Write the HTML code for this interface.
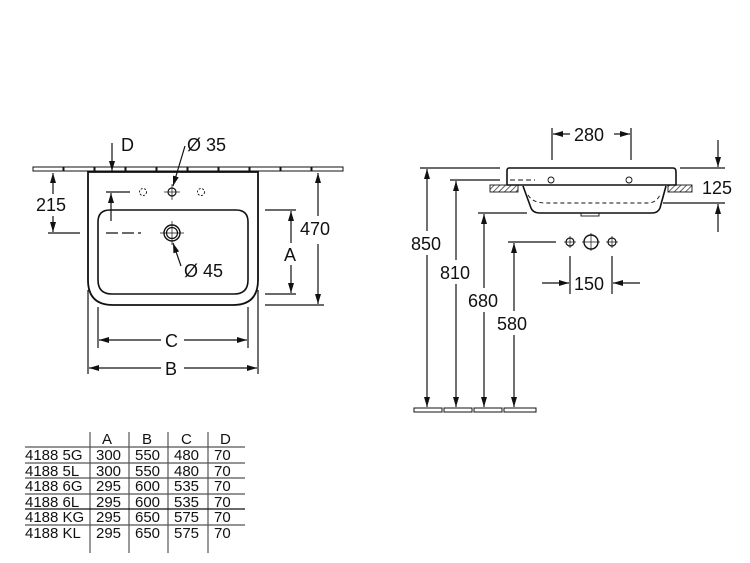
<!DOCTYPE html>
<html><head><meta charset="utf-8"><style>
html,body{margin:0;padding:0;background:#fff;}
svg{display:block;}
text{font-family:"Liberation Sans",sans-serif;fill:#111;}
</style></head><body>
<svg width="750" height="563" viewBox="0 0 750 563" xmlns="http://www.w3.org/2000/svg">
<defs>
<marker id="a" viewBox="0 0 10 6" refX="10" refY="3" markerWidth="10" markerHeight="6" orient="auto-start-reverse" markerUnits="userSpaceOnUse"><path d="M0,0L10,3L0,6z" fill="#111"/></marker>
<pattern id="h" width="4" height="4" patternUnits="userSpaceOnUse" patternTransform="rotate(45)"><line x1="0" y1="0" x2="0" y2="4" stroke="#333" stroke-width="1.5"/></pattern>
</defs>
<g stroke="#111" fill="none" stroke-width="1.2">
<g stroke-width="1">
<rect x="33" y="167" width="30" height="4"/><rect x="64" y="167" width="30" height="4"/><rect x="95" y="167" width="30" height="4"/><rect x="126" y="167" width="30" height="4"/><rect x="157" y="167" width="30" height="4"/><rect x="188" y="167" width="30" height="4"/><rect x="219" y="167" width="30" height="4"/><rect x="250" y="167" width="30" height="4"/><rect x="281" y="167" width="30" height="4"/><rect x="312" y="167" width="31" height="4"/>
</g>
<path d="M88,172 V280 Q88,305 113,305 H233 Q258,305 258,280 V172 Z" stroke-width="1.8"/>
<path d="M98,222 Q98,210 110,210 H236 Q248,210 248,222 V280 Q248,294 234,294 H112 Q98,294 98,280 Z" stroke-width="1.6"/>
<circle cx="172" cy="192" r="4"/><line x1="164" y1="192" x2="180" y2="192" stroke-width="0.7"/><line x1="172" y1="184" x2="172" y2="200" stroke-width="0.7"/>
<g stroke-width="0.9" stroke-dasharray="2,1.5"><circle cx="143" cy="192" r="3.5"/><circle cx="201" cy="192" r="3.5"/></g>
<circle cx="172" cy="233" r="8" stroke-width="1.4"/><circle cx="172" cy="233" r="5.5"/><line x1="160" y1="233" x2="184" y2="233" stroke-width="0.7"/><line x1="172" y1="221" x2="172" y2="245" stroke-width="0.7"/>
<line x1="185" y1="146" x2="173" y2="186" marker-end="url(#a)"/>
<line x1="181" y1="266" x2="173" y2="243" marker-end="url(#a)"/>
<line x1="112" y1="143" x2="112" y2="171" marker-end="url(#a)"/>
<line x1="53" y1="194" x2="53" y2="173" marker-end="url(#a)"/>
<line x1="53" y1="216" x2="53" y2="232" marker-end="url(#a)"/>
<line x1="48" y1="233" x2="80" y2="233"/>
<line x1="106" y1="233" x2="141" y2="233" stroke-dasharray="12,4"/>
<line x1="106" y1="192" x2="130" y2="192"/>
<line x1="111" y1="221" x2="111" y2="193" marker-end="url(#a)"/>
<line x1="318" y1="216" x2="318" y2="173" marker-end="url(#a)"/>
<line x1="318" y1="244" x2="318" y2="304" marker-end="url(#a)"/>
<line x1="265" y1="305" x2="324" y2="305"/>
<line x1="265" y1="210" x2="296" y2="210"/><line x1="265" y1="294" x2="296" y2="294"/>
<line x1="291" y1="243" x2="291" y2="211" marker-end="url(#a)"/>
<line x1="291" y1="265" x2="291" y2="293" marker-end="url(#a)"/>
<line x1="98" y1="307" x2="98" y2="348"/><line x1="248" y1="307" x2="248" y2="348"/>
<line x1="161" y1="340" x2="99" y2="340" marker-end="url(#a)"/>
<line x1="184" y1="340" x2="247" y2="340" marker-end="url(#a)"/>
<line x1="88" y1="290" x2="88" y2="374"/><line x1="258" y1="290" x2="258" y2="374"/>
<line x1="161" y1="368" x2="89" y2="368" marker-end="url(#a)"/>
<line x1="184" y1="368" x2="257" y2="368" marker-end="url(#a)"/>

<rect x="490" y="185" width="28" height="7" fill="url(#h)" stroke-width="0.9"/>
<rect x="668" y="185" width="24" height="7" fill="url(#h)" stroke-width="0.9"/>
<path d="M509,168 H673 Q676,168 676,172 V185 H507 V171 Q507,168 509,168 Z" stroke-width="1.6"/>
<path d="M523,186 L531,208 Q533,213 540,213 H652 Q658,213 660,208 L666,186" stroke-width="1.6"/>
<path d="M528,195 Q533,203 545,203 H648 Q656,203 660,195" stroke-dasharray="4,3" stroke-width="0.9"/>
<line x1="510" y1="180" x2="535" y2="180" stroke-dasharray="5,3" stroke-width="0.9"/>
<circle cx="551" cy="180" r="3" stroke-width="0.9"/><circle cx="629" cy="180" r="3" stroke-width="0.9"/>
<rect x="581" y="213" width="18" height="3" stroke-width="0.9"/>
<line x1="552" y1="128" x2="552" y2="160"/><line x1="631" y1="128" x2="631" y2="160"/>
<line x1="570" y1="134" x2="553" y2="134" marker-end="url(#a)"/>
<line x1="614" y1="134" x2="630" y2="134" marker-end="url(#a)"/>
<line x1="680" y1="168" x2="725" y2="168"/><line x1="663" y1="203" x2="725" y2="203"/>
<line x1="718" y1="140" x2="718" y2="167" marker-end="url(#a)"/>
<line x1="718" y1="232" x2="718" y2="204" marker-end="url(#a)"/>
<line x1="420" y1="168" x2="500" y2="168"/>
<line x1="450" y1="180" x2="500" y2="180"/>
<line x1="478" y1="213" x2="527" y2="213"/>
<line x1="508" y1="242" x2="556" y2="242"/>
<line x1="427" y1="231" x2="427" y2="169" marker-end="url(#a)"/><line x1="427" y1="255" x2="427" y2="407" marker-end="url(#a)"/>
<line x1="456" y1="260" x2="456" y2="181" marker-end="url(#a)"/><line x1="456" y1="284" x2="456" y2="407" marker-end="url(#a)"/>
<line x1="484" y1="288" x2="484" y2="214" marker-end="url(#a)"/><line x1="484" y1="312" x2="484" y2="407" marker-end="url(#a)"/>
<line x1="514" y1="311" x2="514" y2="243" marker-end="url(#a)"/><line x1="514" y1="335" x2="514" y2="407" marker-end="url(#a)"/>
<g stroke-width="1"><rect x="414" y="408" width="28" height="4"/><rect x="444" y="408" width="28" height="4"/><rect x="474" y="408" width="28" height="4"/><rect x="504" y="408" width="32" height="4"/></g>
<circle cx="570" cy="242" r="4"/><line x1="564" y1="242" x2="576" y2="242" stroke-width="0.7"/><line x1="570" y1="236" x2="570" y2="248" stroke-width="0.7"/>
<circle cx="591" cy="242" r="7" stroke-width="1.4"/><line x1="582" y1="242" x2="600" y2="242" stroke-width="0.7"/><line x1="591" y1="233" x2="591" y2="251" stroke-width="0.7"/>
<circle cx="612" cy="242" r="4"/><line x1="606" y1="242" x2="618" y2="242" stroke-width="0.7"/><line x1="612" y1="236" x2="612" y2="248" stroke-width="0.7"/>
<line x1="570" y1="256" x2="570" y2="294"/><line x1="612" y1="256" x2="612" y2="294"/>
<line x1="542" y1="283" x2="569" y2="283" marker-end="url(#a)"/>
<line x1="640" y1="283" x2="613" y2="283" marker-end="url(#a)"/>
<g stroke="#555" stroke-width="1.2">
<line x1="25" y1="447" x2="245" y2="447"/><line x1="25" y1="463" x2="245" y2="463"/><line x1="25" y1="478" x2="245" y2="478"/><line x1="25" y1="494" x2="245" y2="494"/><line x1="25" y1="525" x2="245" y2="525"/>
<line x1="90" y1="432" x2="90" y2="553"/><line x1="129" y1="432" x2="129" y2="553"/><line x1="168" y1="432" x2="168" y2="553"/><line x1="208" y1="432" x2="208" y2="553"/>
</g>
<line x1="25" y1="509" x2="245" y2="509" stroke="#111"/>
</g>
<g font-size="18">
<text x="121" y="151">D</text>
<text x="187" y="151">Ø 35</text>
<text x="184" y="277">Ø 45</text>
<text x="36" y="211">215</text>
<text x="300" y="235">470</text>
<text x="284" y="261">A</text>
<text x="165" y="347">C</text>
<text x="165" y="375">B</text>
<text x="574" y="141">280</text>
<text x="702" y="194">125</text>
<text x="411" y="250">850</text>
<text x="440" y="279">810</text>
<text x="468" y="307">680</text>
<text x="497" y="330">580</text>
<text x="574" y="290">150</text>
</g>
<g font-size="15">
<text x="102" y="444">A</text><text x="142" y="444">B</text><text x="181" y="444">C</text><text x="220" y="444">D</text>
<text x="25" y="460">4188 5G</text><text x="96" y="460">300</text><text x="135" y="460">550</text><text x="174" y="460">480</text><text x="214" y="460">70</text>
<text x="25" y="476">4188 5L</text><text x="96" y="476">300</text><text x="135" y="476">550</text><text x="174" y="476">480</text><text x="214" y="476">70</text>
<text x="25" y="491">4188 6G</text><text x="96" y="491">295</text><text x="135" y="491">600</text><text x="174" y="491">535</text><text x="214" y="491">70</text>
<text x="25" y="507">4188 6L</text><text x="96" y="507">295</text><text x="135" y="507">600</text><text x="174" y="507">535</text><text x="214" y="507">70</text>
<text x="25" y="522">4188 KG</text><text x="96" y="522">295</text><text x="135" y="522">650</text><text x="174" y="522">575</text><text x="214" y="522">70</text>
<text x="25" y="538">4188 KL</text><text x="96" y="538">295</text><text x="135" y="538">650</text><text x="174" y="538">575</text><text x="214" y="538">70</text>
</g>
</svg>
</body></html>
